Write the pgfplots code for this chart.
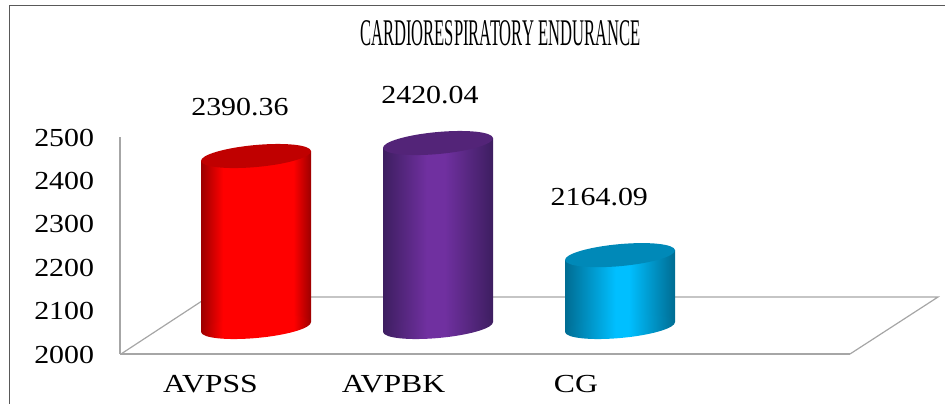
\documentclass[border=0pt]{standalone}
\usepackage{fontspec}
\setmainfont{Liberation Serif}
\usepackage{pgfplots}
\pgfplotsset{compat=1.18}

\definecolor{reddk}{HTML}{9C0000}
\definecolor{redbr}{HTML}{FF0000}
\definecolor{redtop}{HTML}{C00000}
\definecolor{purdk}{HTML}{3D1E60}
\definecolor{purbr}{HTML}{7030A0}
\definecolor{purtop}{HTML}{532478}
\definecolor{bludk}{HTML}{006C92}
\definecolor{blubr}{HTML}{00BFFF}
\definecolor{blutop}{HTML}{0089B8}
\definecolor{wall}{HTML}{A6A6A6}

% side shading of the cylinders
\pgfdeclarehorizontalshading{redbody}{100bp}{color(0bp)=(reddk);color(25bp)=(reddk);color(35bp)=(redbr);color(67bp)=(redbr);color(75bp)=(reddk);color(100bp)=(reddk)}
\pgfdeclarehorizontalshading{purbody}{100bp}{color(0bp)=(purdk);color(25bp)=(purdk);color(45bp)=(purbr);color(53bp)=(purbr);color(75bp)=(purdk);color(100bp)=(purdk)}
\pgfdeclarehorizontalshading{blubody}{100bp}{color(0bp)=(bludk);color(25bp)=(bludk);color(48bp)=(blubr);color(54bp)=(blubr);color(75bp)=(bludk);color(100bp)=(bludk)}

% tilted ellipses for the ends
\newcommand{\tilted}{\pgfpathellipse{\pgfpointorigin}{\pgfqpoint{54.97pt}{5pt}}{\pgfqpoint{-1pt}{10.95pt}}}
\pgfdeclareplotmark{redbase}{\tilted\pgfshadepath{redbody}{0}\pgfusepath{discard}}
\pgfdeclareplotmark{purbase}{\tilted\pgfshadepath{purbody}{0}\pgfusepath{discard}}
\pgfdeclareplotmark{blubase}{\tilted\pgfshadepath{blubody}{0}\pgfusepath{discard}}
\pgfdeclareplotmark{redcap}{\pgfsetfillcolor{redtop}\tilted\pgfusepath{fill}}
\pgfdeclareplotmark{purcap}{\pgfsetfillcolor{purtop}\tilted\pgfusepath{fill}}
\pgfdeclareplotmark{blucap}{\pgfsetfillcolor{blutop}\tilted\pgfusepath{fill}}

\newcommand{\lblfont}{\fontsize{26}{26}\selectfont}

\begin{document}
\begin{tikzpicture}[x=1pt,y=1pt]
  \useasboundingbox (0,0) rectangle (945,404);
  \draw[color=black!65,line width=1pt] (9,0) -- (9,398) -- (945,398);

  % front scale: walls, floor, tick labels, title
  \begin{axis}[
      at={(120pt,50pt)}, anchor=south west,
      scale only axis, width=730pt, height=217pt,
      xmin=120, xmax=850, ymin=2000, ymax=2500,
      clip=false,
      axis lines*=left,
      axis line style={wall,line width=1.2pt,-},
      tick style={draw=none},
      xtick={210.5,393.5,576},
      xticklabels={AVPSS,AVPBK,CG},
      ytick={2000,2100,2200,2300,2400,2500},
      /pgf/number format/assume math mode=true,
      /pgf/number format/1000 sep={},
      xticklabel style={font=\lblfont,xscale=1.22,anchor=center,yshift=-30pt},
      yticklabel style={font=\lblfont,xscale=1.15,anchor=east,xshift=-19pt,yshift=-0.5pt},
      title={CARDIORESPIRATORY ENDURANCE},
      title style={at={(axis description cs:0.521,1.45)},anchor=center,
        font=\fontsize{37.7}{38}\selectfont,xscale=0.44},
    ]
    \addplot[wall,line width=1.2pt] coordinates {
      (121,2000) (208,2131.3) (938,2131.3) (850,2000)
    };
  \end{axis}

  % cylinders: 2000 sits on the middle of the floor
  \begin{axis}[
      at={(120pt,77pt)}, anchor=south west,
      scale only axis, width=730pt, height=190pt,
      xmin=-0.7473, xmax=3.2637, ymin=2000, ymax=2433.79,
      clip=false,
      axis lines=none,
      point meta=explicit symbolic,
      nodes near coords,
    ]
    % AVPSS
    \addplot[only marks,mark=redbase,nodes near coords=\empty] coordinates {(0,2000)};
    \addplot[shade,shading=redbody,draw=none,mark=none,nodes near coords=\empty] coordinates {
      (-0.3022,1988.6) (-0.3022,2379) (0.3022,2401.8) (0.3022,2011.4)
    } -- cycle;
    \addplot[only marks,mark=redcap,
      nodes near coords style={font=\lblfont,xscale=1.15,anchor=center,xshift=-14pt,yshift=49pt}]
      table[meta=label,row sep=crcr] {x y label\\ 0 2390.36 2390.36\\};
    % AVPBK
    \addplot[only marks,mark=purbase,nodes near coords=\empty] coordinates {(1,2000)};
    \addplot[shade,shading=purbody,draw=none,mark=none,nodes near coords=\empty] coordinates {
      (0.6978,1988.6) (0.6978,2408.6) (1.3022,2431.4) (1.3022,2011.4)
    } -- cycle;
    \addplot[only marks,mark=purcap,
      nodes near coords style={font=\lblfont,xscale=1.15,anchor=center,xshift=-7pt,yshift=48pt}]
      table[meta=label,row sep=crcr] {x y label\\ 1 2420.04 2420.04\\};
    % CG
    \addplot[only marks,mark=blubase,nodes near coords=\empty] coordinates {(2,2000)};
    \addplot[shade,shading=blubody,draw=none,mark=none,nodes near coords=\empty] coordinates {
      (1.6978,1988.6) (1.6978,2152.7) (2.3022,2175.5) (2.3022,2011.4)
    } -- cycle;
    \addplot[only marks,mark=blucap,
      nodes near coords style={font=\lblfont,xscale=1.15,anchor=center,xshift=-18pt,yshift=58pt}]
      table[meta=label,row sep=crcr] {x y label\\ 2 2164.09 2164.09\\};
  \end{axis}
\end{tikzpicture}
\end{document}
